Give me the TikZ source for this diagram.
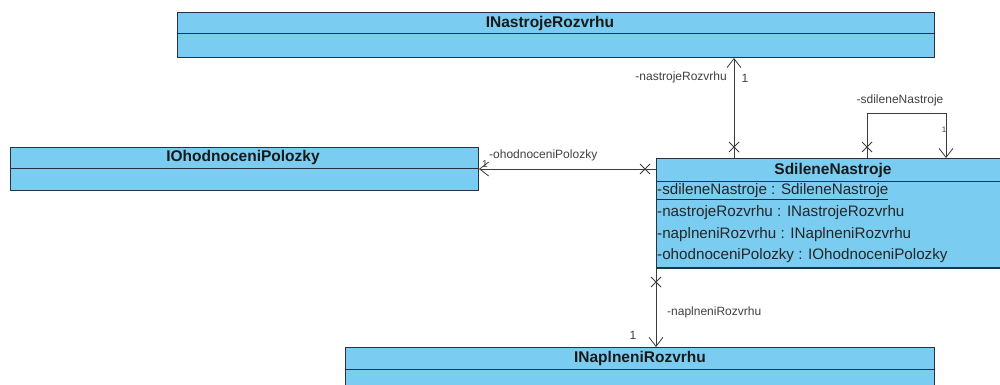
\documentclass[tikz,border=0pt]{standalone}
\usepackage{fontspec}
\setmainfont{Liberation Sans}
\usetikzlibrary{arrows.meta,calc}
\definecolor{boxfill}{RGB}{122,204,240}
\definecolor{boxline}{RGB}{40,50,62}
\definecolor{linec}{RGB}{60,60,60}
\begin{document}
\begin{tikzpicture}[x=1pt,y=-1pt,
  cls/.style={draw=boxline, line width=1pt, fill=boxfill, rectangle, inner sep=0pt, anchor=north west},
  divider/.style={draw=boxline, line width=1pt},
  ttl/.style={font=\fontsize{15.5}{17}\selectfont\bfseries, inner sep=0pt, text=black!90},
  attr/.style={font=\fontsize{15.2}{17}\selectfont, inner sep=0pt, anchor=west, text=black!85},
  lbl/.style={font=\fontsize{12}{14}\selectfont, inner sep=0pt, text=black!75},
  conn/.style={draw=linec, line width=0.8pt},
  arr/.style={-{Straight Barb[length=9pt,width=14pt,line width=0.8pt]}},
  xm/.pic={\draw[conn] (-5,-5)--(5,5) (-5,5)--(5,-5);}]
\useasboundingbox (0,0) rectangle (1000,385);
\fill[white] (0,0) rectangle (1000,385);

% INastrojeRozvrhu
\node[cls, minimum width=757pt, minimum height=45pt] (inr) at (177,12) {};
\draw[divider] (177,34) -- (934,34);
\node[ttl] (inrT) at (550,23) {INastrojeRozvrhu};

% IOhodnoceniPolozky
\node[cls, minimum width=468pt, minimum height=43pt] (iop) at (10,147) {};
\draw[divider] (10,168) -- (478,168);
\node[ttl] (iopT) at (243,157.5) {IOhodnoceniPolozky};

% SdileneNastroje
\node[cls, minimum width=356pt, minimum height=110pt] (sn) at (656,158) {};
\draw[divider] (656,181) -- (1012,181);
\draw[boxline, line width=1.6pt] (656,268) -- (1012,268);
\node[ttl] (snT) at (833,170) {SdileneNastroje};
\node[attr] (a1) at (657,192) {\underline{-sdileneNastroje : SdileneNastroje}};
\node[attr] (a2) at (657,213) {-nastrojeRozvrhu : INastrojeRozvrhu};
\node[attr] (a3) at (657,234.5) {-naplneniRozvrhu : INaplneniRozvrhu};
\node[attr] (a4) at (657,256) {-ohodnoceniPolozky : IOhodnoceniPolozky};

% INaplneniRozvrhu
\node[cls, minimum width=589pt, minimum height=48pt] (inp) at (345,347) {};
\draw[divider] (345,369) -- (934,369);
\node[ttl] (inpT) at (640,358) {INaplneniRozvrhu};

% connectors
\coordinate (c1) at ($(sn.north west)+(78,0)$);
\draw[conn, arr] (c1) -- (c1 |- inr.south);
\pic at ($(c1)+(0,-11)$) {xm};
\node[lbl, anchor=east] (l1) at (727,77) {-nastrojeRozvrhu};
\node[lbl] (m1) at (745,78) {1};

\coordinate (s1) at ($(sn.north west)+(211,0)$);
\coordinate (s2) at ($(sn.north west)+(290,0)$);
\draw[conn, arr] (s1) -- ($(s1)+(0,-45)$) -| (s2);
\pic at ($(s1)+(0,-11)$) {xm};
\node[lbl] (l2) at (900,100) {-sdileneNastroje};
\node[lbl, font=\fontsize{8}{9}\selectfont] (m2) at (944,130) {1};

\draw[conn, arr] (sn.west |- iop.east) -- (iop.east);
\pic at ($(sn.west |- iop.east)+(-11,0)$) {xm};
\node[lbl, anchor=west] (l3) at (489,155) {-ohodnoceniPolozky};
\node[lbl, font=\fontsize{10}{11}\selectfont] (m3) at (485,164) {1};

\draw[conn, arr] (sn.south west) -- (sn.south west |- inp.north);
\pic at ($(sn.south west)+(0,13)$) {xm};
\node[lbl, anchor=west] (l4) at (667,312) {-naplneniRozvrhu};
\node[lbl] (m4) at (633,335) {1};
\end{tikzpicture}
\end{document}
